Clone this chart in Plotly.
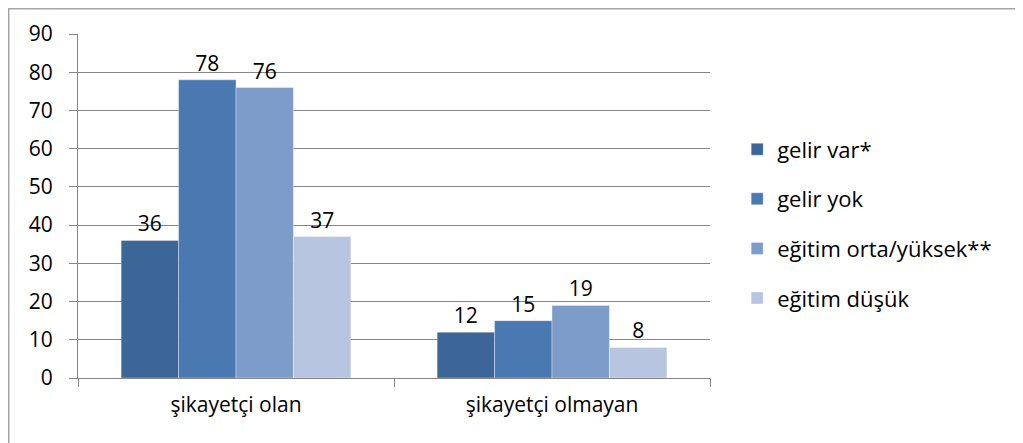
import plotly.graph_objects as go

categories = ["şikayetçi olan", "şikayetçi olmayan"]
series_names = ["gelir var*", "gelir yok", "eğitim orta/yüksek**", "eğitim düşük"]
gelir_var = [36, 12]
gelir_yok = [78, 15]
egitim_orta_yuksek = [76, 19]
egitim_dusuk = [37, 8]
colors = ["#3D6698", "#4A79B2", "#7E9CC9", "#B7C5E0"]

font_family = "Open Sans, Noto Sans, sans-serif"

fig = go.Figure()
for i, (name, vals) in enumerate(zip(series_names,
                                     [gelir_var, gelir_yok, egitim_orta_yuksek, egitim_dusuk])):
    fig.add_trace(go.Bar(
        x=categories, y=vals, name=name,
        marker=dict(color=colors[i], line=dict(width=0.6, color="rgba(255,255,255,0.6)")),
        text=[str(v) for v in vals], textposition="outside",
        textfont=dict(size=21, color="black", family=font_family),
        cliponaxis=False,
        legendgroup="g%d" % i,
    ))

# page has an 8px body margin, so the figure is 8px smaller than the window
fig.update_layout(
    width=1015, height=435,
    margin=dict(l=70, r=313, t=26, b=65),
    paper_bgcolor="white", plot_bgcolor="white",
    barmode="group", bargap=0.273, bargroupgap=0,
    font=dict(family=font_family, size=21, color="black"),
    showlegend=True,
    legend=dict(x=1.043, y=0.448, xanchor="left", yanchor="middle",
                font=dict(size=22), tracegroupgap=18,
                bgcolor="rgba(0,0,0,0)"),
    shapes=[dict(type="rect", xref="paper", yref="paper",
                 x0=-0.1096, x1=2, y0=-1, y1=1.0734,
                 line=dict(color="#A6A6A6", width=1.5))],
)
fig.update_yaxes(range=[0, 90], dtick=10, showgrid=True, gridcolor="#868686",
                 gridwidth=1, ticks="outside", ticklen=8, tickcolor="#868686",
                 showline=True, linecolor="#868686", linewidth=1,
                 tickfont=dict(size=21), zeroline=False, ticklabelstandoff=12)
fig.update_xaxes(showline=True, linecolor="#868686", linewidth=1,
                 ticks="outside", tickson="boundaries", ticklen=8,
                 tickcolor="#868686", tickfont=dict(size=21), ticklabelstandoff=8)

fig.write_html("out.html")
